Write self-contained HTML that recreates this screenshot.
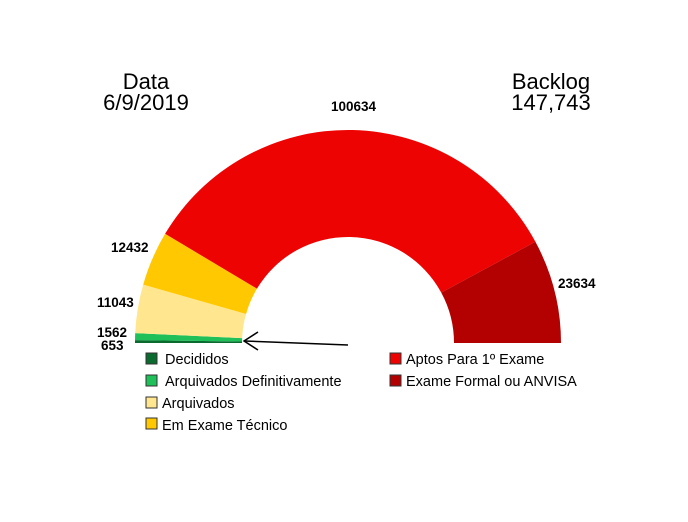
<!DOCTYPE html>
<html><head><meta charset="utf-8"><style>
body{margin:0;background:#fff;}
svg{display:block;font-family:"Liberation Sans",sans-serif;}
</style></head><body>
<svg width="688" height="522" viewBox="0 0 688 522">
<rect width="688" height="522" fill="#fff"/>
<path d="M135,343 A213,213 0 0 1 135.02,340.1 L242.01,341.56 A106,106 0 0 0 242,343 Z" fill="#0b6b2f"/>
<path d="M135.02,340.1 A213,213 0 0 1 135.2,333.1 L242.11,338.08 A106,106 0 0 0 242.01,341.56 Z" fill="#1fbf5a"/>
<path d="M135.2,333.1 A213,213 0 0 1 143.2,284.6 L246.06,313.94 A106,106 0 0 0 242.11,338.08 Z" fill="#ffe68f"/>
<path d="M143.2,284.6 A213,213 0 0 1 165.1,233.8 L256.99,288.66 A106,106 0 0 0 246.06,313.94 Z" fill="#ffc800"/>
<path d="M165.1,233.8 A213,213 0 0 1 535.4,241.8 L441.26,292.63 A106,106 0 0 0 256.99,288.66 Z" fill="#ee0303"/>
<path d="M535.4,241.8 A213,213 0 0 1 561,343 L454,343 A106,106 0 0 0 441.26,292.63 Z" fill="#b30000"/>
<g stroke="#000" stroke-width="1.5" fill="none">
<line x1="348" y1="345" x2="244" y2="341"/>
<polyline points="258,332 244,341 258,350"/>
</g>
<g font-weight="bold" font-size="13.5" fill="#000">
<text x="331" y="111">100634</text>
<text x="111" y="252">12432</text>
<text x="97" y="307">11043</text>
<text x="97" y="337">1562</text>
<text x="101" y="350">653</text>
<text x="558" y="288">23634</text>
</g>
<g font-size="22" fill="#000">
<text x="146" y="89" text-anchor="middle">Data</text>
<text x="146" y="110" text-anchor="middle">6/9/2019</text>
<text x="551" y="89" text-anchor="middle">Backlog</text>
<text x="551" y="110" text-anchor="middle">147,743</text>
</g>
<g stroke="#333" stroke-width="1">
<rect x="146" y="353" width="11" height="11" fill="#0b6b2f"/>
<rect x="146" y="375" width="11" height="11" fill="#1fbf5a"/>
<rect x="146" y="397" width="11" height="11" fill="#ffe68f"/>
<rect x="146" y="418" width="11" height="11" fill="#ffc800"/>
<rect x="390" y="353" width="11" height="11" fill="#ee0303"/>
<rect x="390" y="375" width="11" height="11" fill="#b30000"/>
</g>
<g font-size="14.5" fill="#000">
<text x="165" y="364">Decididos</text>
<text x="165" y="386">Arquivados Definitivamente</text>
<text x="162" y="408">Arquivados</text>
<text x="162" y="430">Em Exame Técnico</text>
<text x="406" y="364">Aptos Para 1º Exame</text>
<text x="406" y="386">Exame Formal ou ANVISA</text>
</g>
</svg>
</body></html>
